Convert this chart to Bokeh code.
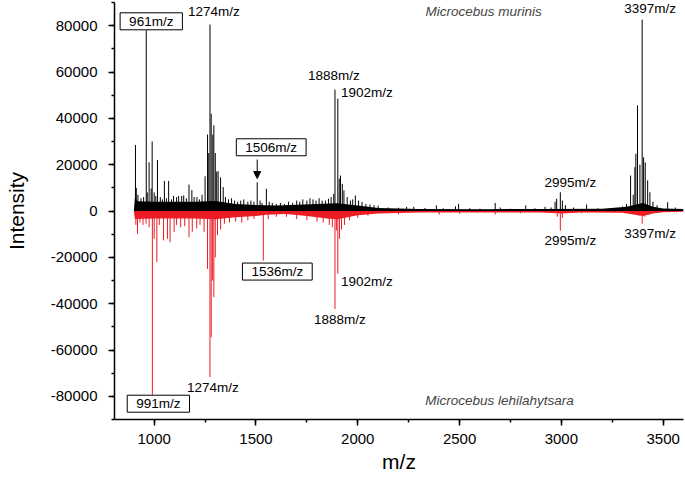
from bokeh.plotting import figure
from bokeh.models import (Range1d, SingleIntervalTicker, NumeralTickFormatter,
                          ColumnDataSource, Arrow, NormalHead, Label)
from bokeh.core.properties import value
from bokeh.embed import file_html
from bokeh.resources import INLINE

# ---------------- data ----------------
# Microcebus murinus spectrum (upper, black): peak m/z and intensity
murinis_mz = [908, 912, 920, 935, 948, 961, 966, 975, 985, 990, 1000, 1008, 1016,
              1030, 1040, 1050, 1060, 1071, 1085, 1095, 1110, 1120, 1135, 1145,
              1158, 1171, 1185, 1196, 1210, 1222, 1235, 1250, 1262, 1268, 1274,
              1280, 1288, 1293, 1300, 1307, 1314, 1326, 1339, 1350, 1365, 1380,
              1395, 1410, 1425, 1440, 1460, 1475, 1490, 1506, 1520, 1530, 1551,
              1565, 1580, 1600, 1620, 1640, 1660, 1680, 1700, 1715, 1730, 1750,
              1765, 1780, 1795, 1810, 1825, 1841, 1856, 1869, 1882, 1888, 1902,
              1909, 1915, 1924, 1932, 1948, 1964, 1975, 1988, 2004, 2021, 2040,
              2060, 2080, 2100, 2150, 2200, 2240, 2275, 2330, 2386, 2420, 2480,
              2495, 2550, 2600, 2675, 2700, 2750, 2825, 2870, 2920, 2950, 2969,
              2977, 2995, 3005, 3020, 3060, 3124, 3180, 3250, 3300, 3320, 3340,
              3353, 3361, 3366, 3374, 3386, 3397, 3404, 3412, 3424, 3435, 3450,
              3470, 3522, 3560]
murinis_int = [28500, 10000, 7000, 5500, 6000, 78000, 8000, 21000, 9700, 30000, 8000,
               6500, 22000, 6000, 5000, 13000, 5500, 13000, 5000, 6500, 6000, 6500,
               6500, 6700, 5500, 11400, 9000, 6000, 6000, 5000, 7000, 15000, 33000,
               25000, 80500, 42000, 33000, 37000, 25000, 17000, 17200, 14500, 10300,
               6000, 5000, 5500, 4500, 4000, 4500, 5000, 4000, 4500, 4000, 12400,
               4500, 3500, 9600, 4000, 3500, 3000, 3500, 3000, 4000, 3500, 4500,
               4000, 5000, 4500, 5500, 5000, 4500, 5500, 4500, 4500, 5300, 6000,
               7400, 52400, 48500, 13900, 15300, 11700, 8900, 6000, 4500, 5000,
               6700, 4500, 3900, 3000, 2800, 2500, 2300, 1500, 1400, 1800, 1800,
               1300, 2400, 1200, 2000, 3100, 1200, 1000, 3500, 1500, 1000, 2400,
               1200, 1800, 1500, 4000, 5300, 8100, 4500, 2500, 1500, 2800, 1200,
               1000, 2000, 3000, 15300, 7000, 18900, 24700, 45600, 20000, 82600,
               23200, 21000, 13200, 8100, 4000, 2500, 3800, 1500]

# Microcebus lehilahytsara spectrum (lower, red, drawn downwards)
lehil_mz = [910, 918, 930, 945, 960, 975, 991, 1000, 1013, 1025, 1046, 1065, 1078,
            1098, 1110, 1130, 1150, 1171, 1187, 1209, 1225, 1245, 1262, 1274, 1280,
            1287, 1293, 1300, 1311, 1326, 1345, 1370, 1400, 1430, 1460, 1490, 1536,
            1560, 1600, 1650, 1700, 1750, 1800, 1830, 1860, 1875, 1888, 1895, 1902,
            1910, 1920, 1935, 1960, 2000, 2050, 2200, 2400, 2500, 2675, 2800, 2980,
            2995, 3005, 3100, 3380, 3397, 3410, 3430]
lehil_int = [-6000, -9900, -5000, -6000, -5500, -7000, -79300, -12000, -22100, -6000,
             -12700, -12000, -13500, -9000, -6000, -7000, -6500, -11300, -9000, -7500,
             -6000, -9000, -25000, -71800, -54500, -30000, -37200, -20000, -10400,
             -8000, -5500, -5000, -4500, -5000, -4000, -3400, -21400, -3500, -2500,
             -2500, -3500, -4000, -4600, -5000, -6000, -7000, -42300, -8400, -27000,
             -12000, -8000, -6000, -4000, -3000, -2000, -1500, -1500, -1200, -1500,
             -1000, -2500, -8500, -3000, -1000, -2000, -5500, -2500, -1500]

# dense baseline (noise band) envelopes
murinis_base_mz = [900, 905, 920, 1000, 1100, 1200, 1300, 1400, 1500, 1600, 1700,
                   1800, 1900, 2000, 2100, 2300, 2600, 2900, 3200, 3320, 3400, 3450,
                   3500, 3600]
murinis_base_int = [0, 5500, 4200, 4000, 4000, 4000, 4300, 3000, 2600, 2400, 2700,
                    3000, 3300, 2400, 1300, 900, 800, 900, 1000, 1800, 3500, 1800,
                    1100, 900]
lehil_base_mz = [900, 905, 1000, 1100, 1200, 1300, 1400, 1500, 1550, 1650, 1750,
                 1850, 1900, 1950, 2000, 2100, 2300, 2600, 2900, 3000, 3100, 3300,
                 3400, 3450, 3500, 3600]
lehil_base_int = [0, -3500, -3200, -3200, -3200, -3600, -2700, -2200, -1600, -1300,
                  -2200, -3200, -3600, -2700, -1800, -1100, -700, -600, -700, -1100,
                  -700, -800, -2200, -1100, -500, -300]

top_label_mz = [961, 1274, 1506, 1888, 1902, 2995, 3397]
top_label_text = ["961m/z", "1274m/z", "1506m/z", "1888m/z", "1902m/z", "2995m/z", "3397m/z"]
top_boxed = [961, 1506]
bottom_label_mz = [991, 1274, 1536, 1888, 1902, 2995, 3397]
bottom_label_text = ["991m/z", "1274m/z", "1536m/z", "1888m/z", "1902m/z", "2995m/z", "3397m/z"]
bottom_boxed = [991, 1536]
arrow_peak = 1506
species_top = "Microcebus murinis"
species_bottom = "Microcebus lehilahytsara"
x_title = "m/z"
y_title = "Intensity"

# ---------------- layout / styles ----------------
FONT = "Liberation Sans"
RED = "#ec1c24"

p = figure(width=685, height=481, output_backend="svg", toolbar_location=None,
           x_range=Range1d(805, 3600), y_range=Range1d(-90000, 90000),
           min_border_left=114, min_border_right=2, min_border_top=2,
           min_border_bottom=62)
p.outline_line_color = None
p.xgrid.visible = False
p.ygrid.visible = False
p.background_fill_color = "white"
p.border_fill_color = "white"

# noise bands
p.varea(x=murinis_base_mz, y1=0, y2=murinis_base_int, fill_color="black")
p.varea(x=lehil_base_mz, y1=0, y2=lehil_base_int, fill_color=RED)

# stems
p.segment(x0=lehil_mz, y0=0, x1=lehil_mz, y1=lehil_int, line_color=RED, line_width=1)
p.segment(x0=murinis_mz, y0=0, x1=murinis_mz, y1=murinis_int, line_color="black", line_width=1)

top_lookup = dict(zip(murinis_mz, murinis_int))
bot_lookup = dict(zip(lehil_mz, lehil_int))

top_off = {961: (5, -9), 1274: (4, -13), 1506: (14, -35), 1888: (-1, -14),
           1902: (29, -6), 2995: (10, -10), 3397: (8, -11)}
bot_off = {991: (6, 9), 1274: (3, 10), 1536: (14, 11), 1888: (5, 11),
           1902: (29, 8), 2995: (10, 10), 3397: (8, 10)}


def label_source(mzs, texts, lookup, offs, boxed, want_boxed):
    d = dict(x=[], y=[], text=[], dx=[], dy=[])
    for m, t in zip(mzs, texts):
        if (m in boxed) != want_boxed:
            continue
        d["x"].append(m)
        d["y"].append(lookup[m])
        d["text"].append(t)
        d["dx"].append(offs[m][0])
        d["dy"].append(offs[m][1])
    return ColumnDataSource(d)


for mzs, texts, lookup, offs, boxed in [
        (top_label_mz, top_label_text, top_lookup, top_off, top_boxed),
        (bottom_label_mz, bottom_label_text, bot_lookup, bot_off, bottom_boxed)]:
    src_plain = label_source(mzs, texts, lookup, offs, boxed, False)
    p.text(x="x", y="y", text="text", x_offset="dx", y_offset="dy", source=src_plain,
           text_font=value(FONT), text_font_size="13.5px", text_color="black",
           text_align="center", text_baseline="middle")
    src_box = label_source(mzs, texts, lookup, offs, boxed, True)
    p.text(x="x", y="y", text="text", x_offset="dx", y_offset="dy", source=src_box,
           text_font=value(FONT), text_font_size="13.5px", text_color="black",
           text_align="center", text_baseline="middle",
           background_fill_color="white", border_line_color="black",
           border_line_width=1, padding=(9, 1))

# arrow to 1506
a_y = top_lookup[arrow_peak]
p.add_layout(Arrow(end=NormalHead(size=7, fill_color="black", line_color="black"),
                   x_start=arrow_peak, y_start=a_y + 9800,
                   x_end=arrow_peak, y_end=a_y + 1600,
                   line_color="black", line_width=1))

# species names
p.add_layout(Label(x=2618, y=85900, text=species_top, text_font=FONT,
                   text_font_size="13.5px", text_font_style="italic",
                   text_align="center", text_baseline="middle"))
p.add_layout(Label(x=2696, y=-81900, text=species_bottom, text_font=FONT,
                   text_font_size="13.5px", text_font_style="italic",
                   text_align="center", text_baseline="middle"))

# axes
p.xaxis.ticker = SingleIntervalTicker(interval=500, num_minor_ticks=2)
p.yaxis.ticker = SingleIntervalTicker(interval=20000, num_minor_ticks=2)
p.yaxis.formatter = NumeralTickFormatter(format="0")
for ax in (p.xaxis[0], p.yaxis[0]):
    ax.axis_line_width = 1.5
    ax.axis_line_color = "black"
    ax.major_tick_line_width = 1.5
    ax.minor_tick_line_width = 1.5
    ax.major_tick_in = 0
    ax.major_tick_out = 6
    ax.minor_tick_in = 0
    ax.minor_tick_out = 3
    ax.major_label_text_font = FONT
    ax.major_label_text_font_size = "15px"
    ax.major_label_text_color = "black"
    ax.axis_label_text_font = FONT
    ax.axis_label_text_font_size = "21px"
    ax.axis_label_text_font_style = "normal"
    ax.axis_label_text_color = "black"
p.xaxis.axis_label = x_title
p.yaxis.axis_label = y_title
p.xaxis.major_label_standoff = 8
p.xaxis.axis_label_standoff = 3
p.yaxis.major_label_standoff = 11
p.yaxis.axis_label_standoff = 20

open("out.html", "w").write(file_html(p, INLINE))
